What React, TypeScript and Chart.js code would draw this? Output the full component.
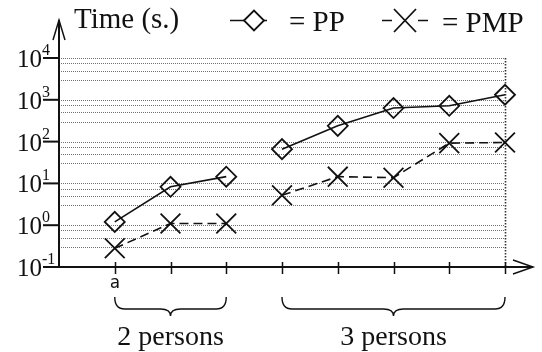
import React, { useEffect, useRef } from "react";
import { Chart, registerables } from "chart.js";

Chart.register(...registerables);

// ---- data ----
const xIndices2 = [0, 1, 2];
const xIndices3 = [3, 4, 5, 6, 7];
const tickLabels = ["a", "", "", "", "", "", "", ""];
const ppTwo = [1.2, 8.3, 14.5];
const ppThree = [66, 238, 635, 719, 1320];
const pmpTwo = [0.28, 1.1, 1.1];
const pmpThree = [5.2, 14.5, 13.7, 92, 95];
const legendLabels = ["= PP", "= PMP"];
const axisTitle = "Time (s.)";
const groupLabels = ["2 persons", "3 persons"];
const groupStart = [0, 3];
const groupEnd = [2, 7];
const decadeExps = [-1, 0, 1, 2, 3, 4];
const minorMultipliers = [3, 5, 7.5];

const SERIF = '"Liberation Serif", "Times New Roman", serif';

function pts(xs: number[], ys: number[]) {
  return xs.map((x, i) => ({ x, y: ys[i] }));
}

const customPlugin = {
  id: "customDraw",
  beforeDatasetsDraw(chart: any) {
    const ctx = chart.ctx;
    const xs = chart.scales.x;
    const ys = chart.scales.y;
    const { left, right, top, bottom } = chart.chartArea;
    ctx.save();
    // dotted grid lines
    ctx.strokeStyle = "#707070";
    ctx.lineWidth = 1;
    ctx.setLineDash([1, 1]);
    const vals: number[] = [];
    decadeExps.forEach((e) => {
      vals.push(Math.pow(10, e));
      if (e < 4) minorMultipliers.forEach((m) => vals.push(m * Math.pow(10, e)));
    });
    vals.forEach((v) => {
      if (v <= 0.1) return;
      const py = Math.round(ys.getPixelForValue(v)) + 0.5;
      ctx.beginPath();
      ctx.moveTo(left + 2, py);
      ctx.lineTo(right, py);
      ctx.stroke();
    });
    // vertical dotted line at last tick
    const lastX = Math.round(xs.getPixelForValue(tickLabels.length - 1)) + 0.5;
    ctx.strokeStyle = "#333";
    ctx.lineWidth = 1.6;
    ctx.setLineDash([1.5, 1.5]);
    ctx.beginPath();
    ctx.moveTo(lastX, top);
    ctx.lineTo(lastX, bottom);
    ctx.stroke();
    ctx.setLineDash([]);

    // axes
    ctx.strokeStyle = "#111";
    ctx.lineWidth = 2;
    const ax = left;
    const ay = bottom;
    ctx.beginPath();
    ctx.moveTo(ax, ay);
    ctx.lineTo(ax, 20);
    ctx.moveTo(ax - 1, ay);
    ctx.lineTo(533, ay);
    ctx.stroke();
    ctx.lineWidth = 1.5;
    ctx.beginPath();
    ctx.moveTo(ax - 6, 40);
    ctx.lineTo(ax, 20);
    ctx.lineTo(ax + 6, 40);
    ctx.moveTo(513, ay - 7);
    ctx.lineTo(533, ay);
    ctx.lineTo(513, ay + 7);
    ctx.stroke();

    // x ticks
    ctx.lineWidth = 1.5;
    tickLabels.forEach((_, i) => {
      const px = Math.round(xs.getPixelForValue(i)) + 0.5;
      ctx.beginPath();
      ctx.moveTo(px, ay - 5);
      ctx.lineTo(px, ay + 7);
      ctx.stroke();
    });
    // y ticks
    ctx.lineWidth = 2;
    decadeExps.forEach((e) => {
      const py = ys.getPixelForValue(Math.pow(10, e));
      ctx.beginPath();
      ctx.moveTo(43, py);
      ctx.lineTo(ax, py);
      ctx.stroke();
    });
    ctx.restore();
  },
  afterDatasetsDraw(chart: any) {
    const ctx = chart.ctx;
    const xs = chart.scales.x;
    const ys = chart.scales.y;
    ctx.save();
    ctx.fillStyle = "#111";
    ctx.strokeStyle = "#111";
    // y tick labels 10^e
    decadeExps.forEach((e) => {
      const py = ys.getPixelForValue(Math.pow(10, e));
      ctx.font = `25px ${SERIF}`;
      ctx.textAlign = "right";
      ctx.textBaseline = "alphabetic";
      ctx.fillText("10", 42, py + 9);
      ctx.font = `16px ${SERIF}`;
      ctx.textAlign = "left";
      ctx.fillText(String(e), 42, py - 3);
    });
    // x tick labels
    ctx.font = `17px "DejaVu Sans Mono", monospace`;
    ctx.textAlign = "center";
    tickLabels.forEach((t, i) => {
      if (!t) return;
      ctx.fillText(t, xs.getPixelForValue(i), 288);
    });
    // braces and group labels
    ctx.lineWidth = 1.4;
    groupLabels.forEach((lab, g) => {
      const x1 = xs.getPixelForValue(groupStart[g]);
      const x2 = xs.getPixelForValue(groupEnd[g]);
      const xm = (x1 + x2) / 2;
      const topY = 297, midY = 309, tipY = 316, r = 10;
      ctx.beginPath();
      ctx.moveTo(x1, topY);
      ctx.quadraticCurveTo(x1, midY, x1 + r, midY);
      ctx.lineTo(xm - r, midY);
      ctx.quadraticCurveTo(xm, midY, xm, tipY);
      ctx.quadraticCurveTo(xm, midY, xm + r, midY);
      ctx.lineTo(x2 - r, midY);
      ctx.quadraticCurveTo(x2, midY, x2, topY);
      ctx.stroke();
      ctx.font = `28px ${SERIF}`;
      ctx.textAlign = "center";
      ctx.fillText(lab, xm, 345);
    });
    // axis title
    ctx.font = `29px ${SERIF}`;
    ctx.textAlign = "left";
    ctx.fillText(axisTitle, 74, 28);
    // legend PP
    ctx.lineWidth = 1.6;
    ctx.beginPath();
    ctx.moveTo(230, 20.5);
    ctx.lineTo(267, 20.5);
    ctx.stroke();
    ctx.lineWidth = 1.8;
    ctx.beginPath();
    ctx.moveTo(244, 20.5);
    ctx.lineTo(254, 10.5);
    ctx.lineTo(264, 20.5);
    ctx.lineTo(254, 30.5);
    ctx.closePath();
    ctx.fillStyle = "#fff";
    ctx.fill();
    ctx.stroke();
    ctx.fillStyle = "#111";
    ctx.fillText(legendLabels[0], 289, 31);
    // legend PMP
    ctx.lineWidth = 1.6;
    ctx.beginPath();
    ctx.moveTo(382, 20.5);
    ctx.lineTo(392, 20.5);
    ctx.moveTo(418, 20.5);
    ctx.lineTo(428, 20.5);
    ctx.stroke();
    ctx.lineWidth = 1.8;
    ctx.beginPath();
    ctx.moveTo(394, 9);
    ctx.lineTo(416, 32);
    ctx.moveTo(416, 9);
    ctx.lineTo(394, 32);
    ctx.stroke();
    ctx.fillText(legendLabels[1], 442, 32);
    ctx.restore();
  },
};

export default function App() {
  const ref = useRef<HTMLCanvasElement | null>(null);
  useEffect(() => {
    if (!ref.current) return;
    const common = { tension: 0, borderColor: "#111", clip: false as any };
    const chart = new Chart(ref.current, {
      type: "line",
      data: {
        datasets: [
          {
            ...common,
            label: "PP",
            data: pts(xIndices2, ppTwo),
            borderWidth: 1.6,
            pointStyle: "rectRot",
            pointRadius: 10,
            pointBorderWidth: 1.8,
            pointBorderColor: "#111",
            pointBackgroundColor: "rgba(0,0,0,0)",
          },
          {
            ...common,
            label: "PP",
            data: pts(xIndices3, ppThree),
            borderWidth: 1.6,
            pointStyle: "rectRot",
            pointRadius: 10,
            pointBorderWidth: 1.8,
            pointBorderColor: "#111",
            pointBackgroundColor: "rgba(0,0,0,0)",
          },
          {
            ...common,
            label: "PMP",
            data: pts(xIndices2, pmpTwo),
            borderWidth: 1.6,
            borderDash: [9, 5],
            pointStyle: "crossRot",
            pointRadius: 14,
            pointBorderWidth: 1.8,
            pointBorderColor: "#111",
          },
          {
            ...common,
            label: "PMP",
            data: pts(xIndices3, pmpThree),
            borderWidth: 1.6,
            borderDash: [9, 5],
            pointStyle: "crossRot",
            pointRadius: 14,
            pointBorderWidth: 1.8,
            pointBorderColor: "#111",
          },
        ],
      },
      options: {
        animation: false,
        responsive: false,
        events: [],
        layout: { padding: { left: 59, right: 37, top: 58, bottom: 85 } },
        plugins: { legend: { display: false }, tooltip: { enabled: false } },
        scales: {
          x: { type: "linear", min: -1, max: 7, display: false },
          y: { type: "logarithmic", min: 0.1, max: 10000, display: false },
        },
      },
      plugins: [customPlugin],
    });
    return () => chart.destroy();
  }, []);
  return (
    <div style={{ position: "absolute", left: 0, top: 0, width: 542, height: 352, background: "#fff" }}>
      <canvas ref={ref} width={542} height={352} style={{ display: "block" }} />
    </div>
  );
}
